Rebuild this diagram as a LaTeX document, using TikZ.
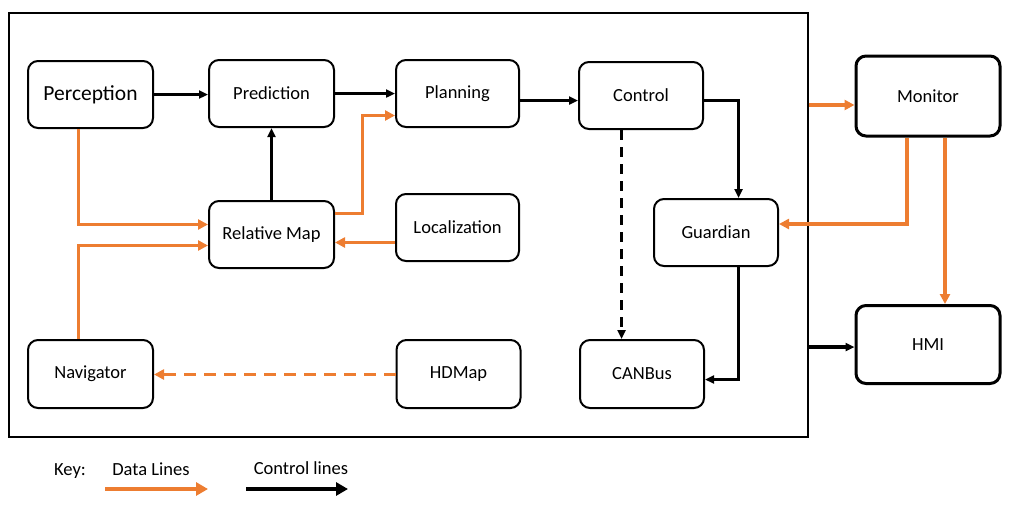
\documentclass[tikz,border=0pt]{standalone}
\usepackage{fontspec}
\setmainfont{Carlito}
\usetikzlibrary{arrows.meta,calc}
\definecolor{dataor}{HTML}{ED7D31}
\tikzset{
  box/.style={draw=black, line width=2pt, rounded corners=10pt, minimum width=125pt, minimum height=67pt, font=\fontsize{18.5}{22}\selectfont, inner sep=0pt},
  bigbox/.style={box, line width=3pt, minimum width=144pt, minimum height=79pt},
  ctl/.style={draw=black, line width=2.6pt, -{Triangle[length=9pt,width=8pt]}},
  dat/.style={draw=dataor, line width=3pt, -{Triangle[length=10pt,width=10pt]}},
  keytext/.style={font=\fontsize{18.5}{22}\selectfont, inner sep=0pt}
}
\begin{document}
\begin{tikzpicture}[x=1pt,y=-1pt]
\useasboundingbox (0,0) rectangle (1015,504);
\node[draw=black, line width=1.2pt, minimum width=799pt, minimum height=424pt, inner sep=0pt] (frame) at (408.5,225) {};
\node[box, font=\fontsize{21.5}{25}\selectfont] (perc) at (90.5,94.5) {Perception};
\node[box] (pred) at (271.5,93.5) {Prediction};
\node[box, minimum width=123pt] (plan) at (457.5,93.5) {Planning};
\node[box, minimum width=124pt] (ctrl) at (641,95.5) {Control};
\node[box] (relmap) at (271.5,234.5) {Relative Map};
\node[box, minimum width=123pt] (loc) at (457.5,227.5) {Localization};
\node[box, minimum width=124pt] (guard) at (716,232.5) {Guardian};
\node[bigbox, minimum height=80pt] (mon) at (928,96) {Monitor};
\node[box, minimum height=68pt] (nav) at (90.5,374) {Navigator};
\node[box, minimum width=124pt, minimum height=68pt] (hdmap) at (458.5,374) {HDMap};
\node[box, minimum width=124pt, minimum height=68pt] (canbus) at (642,374) {CANBus};
\node[bigbox, minimum height=78pt] (hmi) at (928,344.5) {HMI};
% control lines
\draw[ctl] (perc.east) -- (perc.east -| pred.west);
\draw[ctl] (pred.east) -- (pred.east -| plan.west);
\draw[ctl] (plan.east |- 0,100.5) -- (ctrl.west |- 0,100.5);
\draw[ctl] (ctrl.east |- 0,100.5) -| (guard.north -| 738.5,0);
\draw[ctl, dashed, dash pattern=on 10pt off 7pt] (ctrl.south -| 621.5,0) -- (canbus.north -| 621.5,0);
\draw[ctl] (guard.south -| 738.5,0) |- (canbus.east |- 0,379.5);
\draw[ctl] (relmap.north) -- (pred.south);
% data lines
\draw[dat] (perc.south -| 78.5,0) |- (relmap.west |- 0,224.5);
\draw[dat] (nav.north -| 78.5,0) |- (relmap.west |- 0,245.5);
\draw[dat] (relmap.east |- 0,213.5) -- (362.5,213.5) |- (plan.west |- 0,115.5);
\draw[dat] (loc.west |- 0,242.5) -- (relmap.east |- 0,242.5);
\draw[dat, dash pattern=on 12pt off 8pt] (hdmap.west |- 0,374.5) -- (nav.east |- 0,374.5);
\draw[dat, line width=4pt] (frame.east |- 0,105) -- (mon.west |- 0,105);
\draw[dat, line width=4pt] (mon.south -| 907,0) |- (guard.east |- 0,224);
\draw[dat, line width=4pt] (mon.south -| 945,0) -- (hmi.north -| 945,0);
\draw[ctl, line width=4pt] (frame.east |- 0,347) -- (hmi.west |- 0,347);
% key
\node[keytext] (key) at (70,471) {Key:};
\node[keytext] (kdata) at (151,469) {Data Lines};
\node[keytext] (kctl) at (301,468) {Control lines};
\coordinate (kds) at (105,489);
\coordinate (kde) at (208,489);
\coordinate (kcs) at (246,489);
\coordinate (kce) at (348,489);
\draw[draw=dataor, line width=4.5pt, -{Triangle[length=12pt,width=13pt]}] (kds) -- (kde);
\draw[draw=black, line width=4.5pt, -{Triangle[length=12pt,width=13pt]}] (kcs) -- (kce);
\end{tikzpicture}
\end{document}
